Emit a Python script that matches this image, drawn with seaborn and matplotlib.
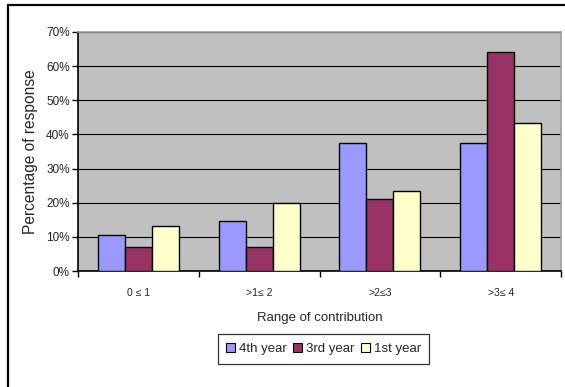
import matplotlib
matplotlib.use("Agg")
import matplotlib.pyplot as plt
from matplotlib.lines import Line2D
from matplotlib.patches import Patch
import seaborn as sns
import pandas as pd

# Survey results: share of responses per contribution range, by student year
categories = ["0 \u2264 1", ">1\u2264 2", ">2\u22643", ">3\u2264 4"]
years = ["4th year", "3rd year", "1st year"]
pct_4th = [10.5, 14.5, 37.5, 37.5]
pct_3rd = [6.9, 6.9, 21.0, 64.2]
pct_1st = [13.3, 20.0, 23.3, 43.3]
y_ticks = [0, 10, 20, 30, 40, 50, 60, 70]
y_tick_labels = ["0%", "10%", "20%", "30%", "40%", "50%", "60%", "70%"]
colors = ["#9999FF", "#993366", "#FFFFCC"]

rows = []
for year, vals in zip(years, [pct_4th, pct_3rd, pct_1st]):
    for cat, v in zip(categories, vals):
        rows.append({"Range": cat, "Year": year, "Percent": v})
df = pd.DataFrame(rows)

sns.set_theme(style="white")
plt.rcParams["font.family"] = ["Liberation Sans", "DejaVu Sans"]

W, H = 565, 387
fig = plt.figure(figsize=(W / 100, H / 100), dpi=100)
fig.patch.set_facecolor("white")

left, right, top, bottom = 78, 561, 32, 271
ax = fig.add_axes([left / W, 1 - bottom / H, (right - left) / W, (bottom - top) / H])
ax.set_facecolor("#C0C0C0")

sns.barplot(data=df, x="Range", y="Percent", hue="Year", hue_order=years,
            order=categories, palette=colors, width=0.67, gap=0,
            edgecolor="black", linewidth=1.0, saturation=1, legend=False,
            errorbar=None, ax=ax, zorder=3)

ax.set_ylim(0, 70)
ax.set_xlim(-0.5, 3.5)
ax.set_yticks(y_ticks)
ax.set_yticklabels(y_tick_labels, fontsize=8.5)
ax.yaxis.grid(True, color="black", linewidth=0.8, zorder=1)
ax.set_axisbelow(True)

# category ticks sit on the boundaries between groups
ax.set_xticks([0, 1, 2, 3])
ax.set_xticklabels(categories, fontsize=7.5)
ax.tick_params(axis="x", length=0, pad=12)
ax.set_xticks([-0.5, 0.5, 1.5, 2.5, 3.5], minor=True)
ax.tick_params(axis="x", which="minor", length=4, width=1, color="black", direction="out", bottom=True)
ax.tick_params(axis="y", length=4, width=1, color="black", direction="out", left=True, pad=2)

for side in ("top", "right"):
    ax.spines[side].set_color("#A0A0A0")
    ax.spines[side].set_linewidth(1.2)
for side in ("left", "bottom"):
    ax.spines[side].set_color("black")
    ax.spines[side].set_linewidth(1.2)

ax.set_xlabel("Range of contribution", fontsize=9.5, labelpad=10)
ax.set_ylabel("Percentage of response", fontsize=11.2, labelpad=6)

handles = [Patch(facecolor=c, edgecolor="black", linewidth=0.8) for c in colors]
leg = fig.legend(handles, years, loc="center", bbox_to_anchor=(323.5 / W, 1 - 349 / H),
                 ncol=3, fontsize=9.5, frameon=True, fancybox=False,
                 handlelength=0.7, handleheight=0.7, handletextpad=0.3,
                 columnspacing=0.45, borderpad=0.65, borderaxespad=0)
leg.get_frame().set_edgecolor("black")
leg.get_frame().set_linewidth(0.9)

# outer chart frame (top and left edges)
fig.add_artist(Line2D([8 / W, 1], [1 - 5 / H, 1 - 5 / H], color="black", linewidth=1.6,
                      transform=fig.transFigure))
fig.add_artist(Line2D([8 / W, 8 / W], [0, 1 - 5 / H], color="black", linewidth=1.6,
                      transform=fig.transFigure))

fig.savefig("out.png", dpi=100)
